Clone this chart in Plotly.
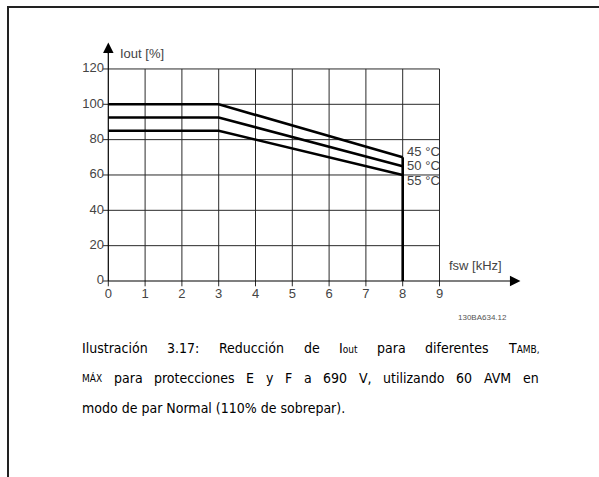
import plotly.graph_objects as go

# data
freq = [0, 3, 8]
iout_45 = [100, 100, 70]
iout_50 = [92.5, 92.5, 65]
iout_55 = [85, 85, 60]
temps = ["45 °C", "50 °C", "55 °C"]
temp_label_y = [72.5, 64.5, 56]
x_ticks = [0, 1, 2, 3, 4, 5, 6, 7, 8, 9]
y_ticks = [0, 20, 40, 60, 80, 100, 120]

W, H = 599, 477
x0_px, px_per_x = 108.3, 36.8
y0_px, px_per_y = 281.0, 1.767

fig = go.Figure()

# grid
gx, gy = [], []
for t in x_ticks[1:]:
    gx += [t, t, None]
    gy += [0, 120, None]
for t in y_ticks[1:]:
    gx += [0, 9, None]
    gy += [t, t, None]
# tick marks
for t in y_ticks:
    gx += [-0.15, 0, None]
    gy += [t, t, None]
for t in x_ticks:
    gx += [t, t, None]
    gy += [0, -3, None]
fig.add_trace(go.Scatter(x=gx, y=gy, mode="lines", line=dict(color="#2a2a2a", width=1),
                         hoverinfo="skip", showlegend=False))

# axes
fig.add_trace(go.Scatter(x=[0, 0, None, 0, 11.0], y=[0, 131, None, 0, 0], mode="lines",
                         line=dict(color="black", width=1.2), hoverinfo="skip", showlegend=False))

# derating curves
for ys in [iout_45, iout_50, iout_55]:
    fig.add_trace(go.Scatter(x=freq, y=ys, mode="lines", line=dict(color="black", width=2.6),
                             hoverinfo="skip", showlegend=False))
fig.add_trace(go.Scatter(x=[freq[-1], freq[-1]], y=[iout_45[-1], 0], mode="lines",
                         line=dict(color="black", width=2.6), hoverinfo="skip", showlegend=False))

# tick labels
lab = dict(family="Liberation Sans", size=13, color="#444")
fig.add_trace(go.Scatter(x=[-0.12] * len(y_ticks), y=y_ticks, mode="text", text=[str(v) for v in y_ticks],
                         textposition="middle left", textfont=lab, hoverinfo="skip", showlegend=False))
fig.add_trace(go.Scatter(x=x_ticks, y=[-8] * len(x_ticks), mode="text", text=[str(v) for v in x_ticks],
                         textposition="middle center", textfont=lab, hoverinfo="skip", showlegend=False))
fig.add_trace(go.Scatter(x=[8.12] * 3, y=temp_label_y, mode="text", text=temps,
                         textposition="middle right", textfont=lab, hoverinfo="skip", showlegend=False))

annotations = [
    # arrowheads
    dict(x=0, y=135, ax=0, ay=128, xref="x", yref="y", axref="x", ayref="y", text="", showarrow=True,
         arrowhead=2, arrowsize=1.4, arrowwidth=1.5, arrowcolor="black"),
    dict(x=11.2, y=0, ax=10.9, ay=0, xref="x", yref="y", axref="x", ayref="y", text="", showarrow=True,
         arrowhead=2, arrowsize=1.4, arrowwidth=1.5, arrowcolor="black"),
    dict(x=0.27, y=128.5, xref="x", yref="y", text="Iout [%]", showarrow=False, xanchor="left", font=lab),
    dict(x=9.2, y=8.5, xref="x", yref="y", text="fsw [kHz]", showarrow=False, xanchor="left", font=lab),
    dict(x=10.18, y=-20.4, xref="x", yref="y", text="130BA634.12", showarrow=False,
         font=dict(family="Liberation Sans", size=8, color="#555")),
]

# caption: justified word by word, widths from DejaVu Sans advance widths (units / 2048)
ADV = {" ": 651, "I": 604, "l": 569, "u": 1298, "s": 1067, "t": 803, "r": 842, "a": 1255, "c": 1126,
       "i": 569, "ó": 1253, "n": 1298, "3": 1303, ".": 651, "1": 1303, "7": 1303, ":": 690, "R": 1423,
       "e": 1260, "d": 1300, "o": 1253, "p": 1300, "f": 721, "T": 1251, "A": 1401, "M": 1767, "B": 1405,
       ",": 651, "Á": 1401, "X": 1405, "E": 1294, "y": 1212, "F": 1178, "6": 1303, "9": 1303, "0": 1303,
       "V": 1401, "z": 1075}
FS, FS_SMALL, COND = 14.0, 10.0, 0.9


def seg_width(txt, size):
    return sum(ADV.get(ch, 1250) for ch in txt) / 2048 * size * COND


cap = dict(family="DejaVu Sans Condensed", size=FS, color="#000")
sm = "<span style='font-size:%spx'>" % FS_SMALL
# each word: list of (text, small?)
line1 = [[("Ilustración", 0)], [("3.17:", 0)], [("Reducción", 0)], [("de", 0)], [("I", 0), ("out", 1)],
         [("para", 0)], [("diferentes", 0)], [("T", 0), ("AMB,", 1)]]
line2 = [[("MÁX", 1)], [("para", 0)], [("protecciones", 0)], [("E", 0)], [("y", 0)], [("F", 0)], [("a", 0)],
         [("690", 0)], [("V,", 0)], [("utilizando", 0)], [("60", 0)], [("AVM", 0)], [("en", 0)]]
left, right = 80, 537
for i, words in enumerate([line1, line2]):
    widths = [sum(seg_width(t, FS_SMALL if s else FS) for t, s in w) for w in words]
    gap = (right - left - sum(widths)) / (len(words) - 1)
    x = left
    for w, wd in zip(words, widths):
        txt = "".join((sm + t + "</span>") if s else t for t, s in w)
        annotations.append(dict(x=x / W, y=1 - (348 + 30 * i) / H, xref="paper", yref="paper", text=txt,
                                showarrow=False, xanchor="left", yanchor="middle", font=cap))
        x += wd + gap
annotations.append(dict(x=left / W, y=1 - 408 / H, xref="paper", yref="paper",
                        text="modo de par Normal (110% de sobrepar).",
                        showarrow=False, xanchor="left", yanchor="middle", font=cap))

shapes = [
    dict(type="line", xref="paper", yref="paper", x0=7 / W, x1=1, y0=1 - 7 / H, y1=1 - 7 / H,
         line=dict(color="#222", width=2)),
    dict(type="line", xref="paper", yref="paper", x0=8 / W, x1=8 / W, y0=1 - 7 / H, y1=0,
         line=dict(color="#222", width=2)),
]

fig.update_layout(
    width=W, height=H, margin=dict(l=0, r=0, t=0, b=0),
    paper_bgcolor="white", plot_bgcolor="white",
    xaxis=dict(range=[-x0_px / px_per_x, (W - x0_px) / px_per_x], visible=False, fixedrange=True),
    yaxis=dict(range=[(y0_px - H) / px_per_y, y0_px / px_per_y], visible=False, fixedrange=True),
    annotations=annotations, shapes=shapes,
)

fig.write_html("out.html", config={"displayModeBar": False},
               post_script="document.body.style.margin='0';document.body.style.overflow='hidden';")
